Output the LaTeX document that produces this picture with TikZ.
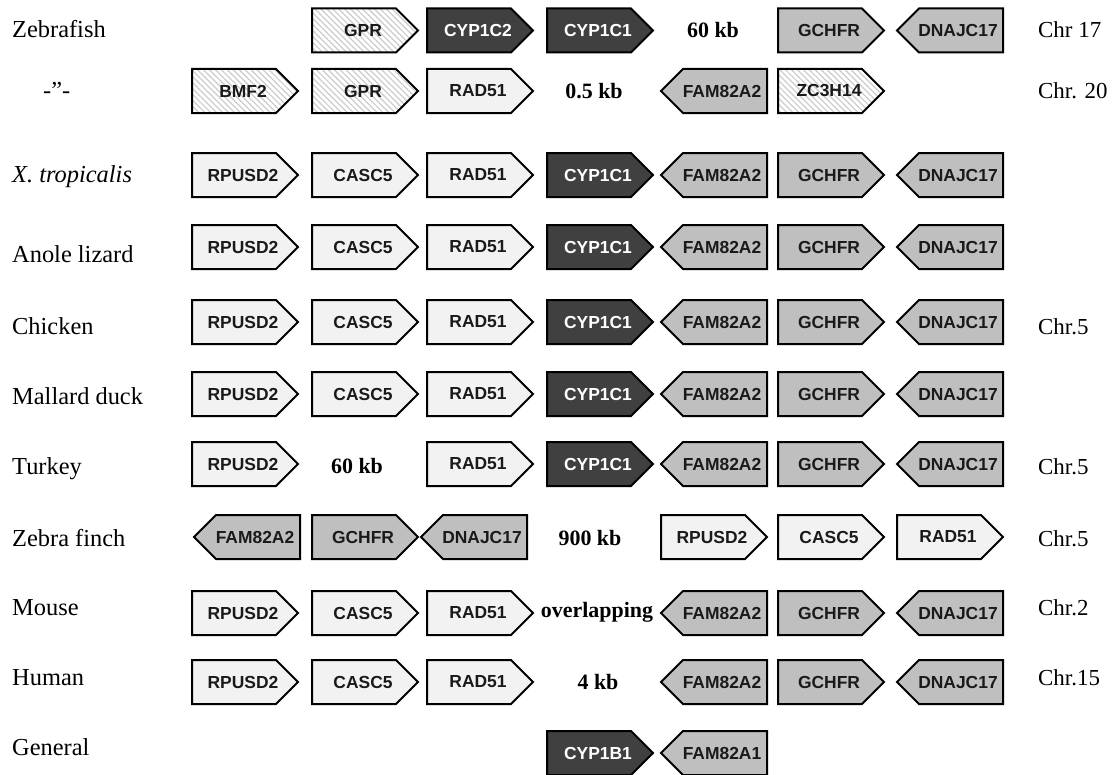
\documentclass[tikz,border=0pt]{standalone}
\usepackage{fontspec}
\setmainfont{Liberation Serif}
\newfontfamily\arialf{Liberation Sans}
\usetikzlibrary{patterns.meta}
\definecolor{lightfill}{HTML}{F2F2F2}
\definecolor{midfill}{HTML}{BFBFBF}
\definecolor{darkfill}{HTML}{404040}
\definecolor{hatchcol}{HTML}{CCCCCC}
\definecolor{gtext}{HTML}{1A1A1A}
\tikzset{
  genebox/.style={draw=black,line width=2bp,line join=miter},
  light/.style={fill=lightfill},
  mid/.style={fill=midfill},
  dark/.style={fill=darkfill},
  hatch/.style={pattern={Lines[angle=-45,distance=4.2bp,line width=1.2bp]},pattern color=hatchcol},
  genetxt/.style={inner sep=0pt,font=\arialf\bfseries\fontsize{17.5}{17.5}\selectfont},
  lighttxt/.style={text=gtext},
  midtxt/.style={text=gtext},
  hatchtxt/.style={text=gtext},
  darktxt/.style={text=white},
  species/.style={anchor=base west,inner sep=0pt,font=\fontsize{24.5}{24.5}\selectfont},
  chrlab/.style={anchor=base west,inner sep=0pt,font=\fontsize{23}{23}\selectfont},
  gaplab/.style={anchor=base,inner sep=0pt,font=\bfseries\fontsize{22}{22}\selectfont},
}
% right-pointing gene: name, left x, centre y, style, text
\newcommand\gener[5]{%
  \draw[genebox,#4] (#2,#3-22) -- (#2+84,#3-22) -- (#2+106,#3) -- (#2+84,#3+22) -- (#2,#3+22) -- cycle;
  \node[genetxt,#4txt] (#1) at (#2+51,#3) {#5};}
% left-pointing gene
\newcommand\genel[5]{%
  \draw[genebox,#4] (#2+106,#3-22) -- (#2+22,#3-22) -- (#2,#3) -- (#2+22,#3+22) -- (#2+106,#3+22) -- cycle;
  \node[genetxt,#4txt] (#1) at (#2+61,#3) {#5};}
\begin{document}
\begin{tikzpicture}[x=1bp,y=-1bp]
\useasboundingbox[fill=white] (0,0) rectangle (1118,775);
% ---- species labels
\node[species] (s1) at (12,38) {Zebrafish};
\node[species] (s2) at (43,99) {-”-};
\node[species] (s3) at (12,182) {\itshape X. tropicalis};
\node[species] (s4) at (12,262) {Anole lizard};
\node[species] (s5) at (12,334) {Chicken};
\node[species] (s6) at (12,404) {Mallard duck};
\node[species] (s7) at (12,474) {Turkey};
\node[species] (s8) at (12,546) {Zebra finch};
\node[species] (s9) at (12,615) {Mouse};
\node[species] (s10) at (12,685) {Human};
\node[species] (s11) at (12,755) {General};
% ---- chromosome labels
\node[chrlab] (c1) at (1038,38) {Chr 17};
\node[chrlab] (c2) at (1038,99) {Chr. 20};
\node[chrlab] (c5) at (1038,334) {Chr.5};
\node[chrlab] (c7) at (1038,474) {Chr.5};
\node[chrlab] (c8) at (1038,546) {Chr.5};
\node[chrlab] (c9) at (1038,615) {Chr.2};
\node[chrlab] (c10) at (1038,685) {Chr.15};
% ---- gap labels
\node[gaplab] (g1) at (713,37.5) {60 kb};
\node[gaplab] (g2) at (594,98.5) {0.5 kb};
\node[gaplab] (g7) at (357,473.5) {60 kb};
\node[gaplab] (g8) at (590,545.5) {900 kb};
\node[gaplab] (g9) at (597,617.5) {overlapping};
\node[gaplab] (g10) at (598,689.5) {4 kb};
% ---- row 1 zebrafish
\gener{a2}{312}{30.5}{hatch}{GPR}
\gener{a3}{427}{30.5}{dark}{CYP1C2}
\gener{a4}{547}{30.5}{dark}{CYP1C1}
\gener{a6}{778}{30.5}{mid}{GCHFR}
\genel{a7}{897}{30.5}{mid}{DNAJC17}
% ---- row 2
\gener{b1}{192}{91}{hatch}{BMF2}
\gener{b2}{312}{91}{hatch}{GPR}
\gener{b3}{427}{91}{light}{RAD51}
\genel{b5}{661}{91}{mid}{FAM82A2}
\gener{b6}{778}{91}{hatch}{ZC3H14}
% ---- standard rows
\foreach \r/\yy in {c/175,d/247,e/322,f/394}{
  \gener{\r1}{192}{\yy}{light}{RPUSD2}
  \gener{\r2}{312}{\yy}{light}{CASC5}
  \gener{\r3}{427}{\yy}{light}{RAD51}
  \gener{\r4}{547}{\yy}{dark}{CYP1C1}
  \genel{\r5}{661}{\yy}{mid}{FAM82A2}
  \gener{\r6}{778}{\yy}{mid}{GCHFR}
  \genel{\r7}{897}{\yy}{mid}{DNAJC17}
}
% ---- turkey
\gener{t1}{192}{464}{light}{RPUSD2}
\gener{t3}{427}{464}{light}{RAD51}
\gener{t4}{547}{464}{dark}{CYP1C1}
\genel{t5}{661}{464}{mid}{FAM82A2}
\gener{t6}{778}{464}{mid}{GCHFR}
\genel{t7}{897}{464}{mid}{DNAJC17}
% ---- zebra finch
\genel{z1}{194}{537}{mid}{FAM82A2}
\gener{z2}{312}{537}{mid}{GCHFR}
\genel{z3}{421}{537}{mid}{DNAJC17}
\gener{z5}{661}{537}{light}{RPUSD2}
\gener{z6}{778}{537}{light}{CASC5}
\gener{z7}{897}{537}{light}{RAD51}
% ---- mouse and human
\foreach \r/\yy in {m/613,h/682}{
  \gener{\r1}{192}{\yy}{light}{RPUSD2}
  \gener{\r2}{312}{\yy}{light}{CASC5}
  \gener{\r3}{427}{\yy}{light}{RAD51}
  \genel{\r5}{661}{\yy}{mid}{FAM82A2}
  \gener{\r6}{778}{\yy}{mid}{GCHFR}
  \genel{\r7}{897}{\yy}{mid}{DNAJC17}
}
% ---- general
\gener{k4}{547}{753}{dark}{CYP1B1}
\genel{k5}{661}{753}{mid}{FAM82A1}
\end{tikzpicture}
\end{document}
